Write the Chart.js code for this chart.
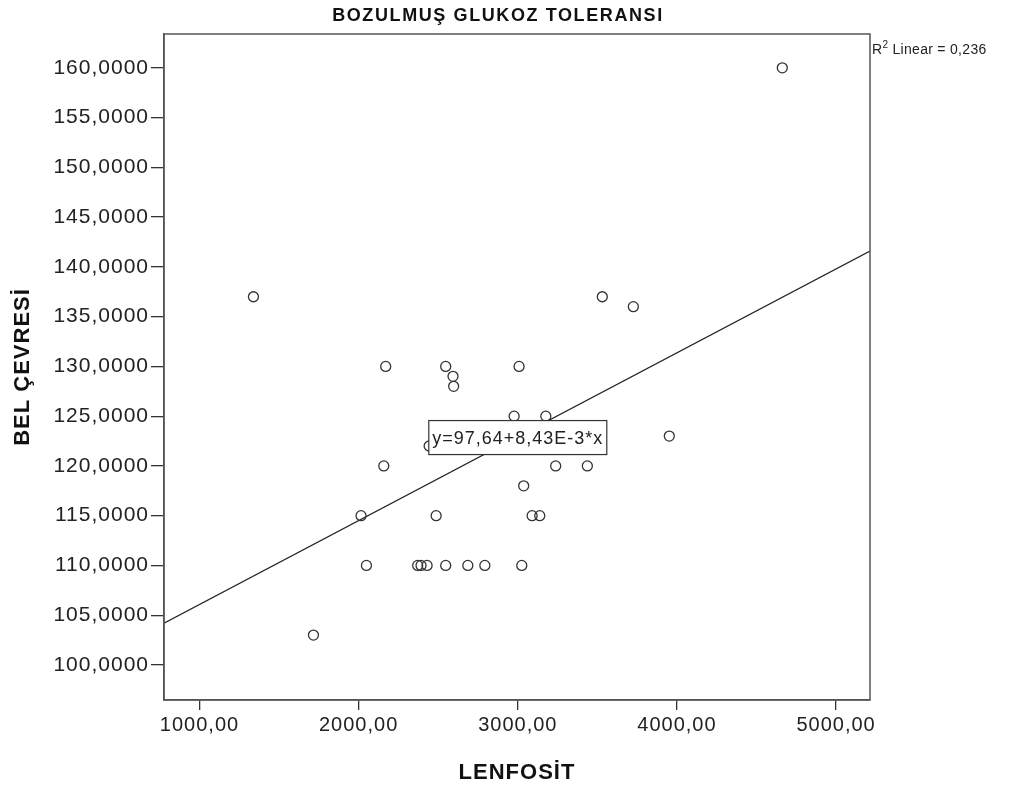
<!DOCTYPE html>
<html>
<head>
<meta charset="utf-8">
<script src="https://cdn.jsdelivr.net/npm/chart.js@4"></script>
<style>
  html, body { margin: 0; padding: 0; background: #fff; }
  #wrap { width: 1016px; height: 787px; position: relative; }
</style>
</head>
<body>
<div id="wrap"><canvas id="myChart"></canvas></div>
<script>
// LENFOSIT (x) vs BEL CEVRESI (y)
let lenfosit = [1339, 1716, 2015, 2049, 2158, 2170, 2371, 2392, 2430, 2443,
                2487, 2547, 2547, 2593, 2597, 2686, 2793, 2977, 3008, 3025,
                3037, 3090, 3138, 3176, 3238, 3437, 3531, 3726, 3952, 4662];
let bel_cevresi = [137, 103, 115, 110, 120, 130, 110, 110, 110, 122,
                   115, 130, 110, 129, 128, 110, 110, 125, 130, 110,
                   118, 115, 115, 125, 120, 120, 137, 136, 123, 160];

// fit line end points (edge of plot area)
let fit_x = [777, 5213];
let fit_y = [104.19, 141.59];

let x_ticks = [1000, 2000, 3000, 4000, 5000];
let y_ticks = [100, 105, 110, 115, 120, 125, 130, 135, 140, 145, 150, 155, 160];

let chart_title = "BOZULMUŞ GLUKOZ TOLERANSI";
let x_title = "LENFOSİT";
let y_title = "BEL ÇEVRESİ";
let fit_label = "y=97,64+8,43E-3*x";
let r2_value = "0,236";

const FONT = "'Liberation Sans', Arial, sans-serif";

/** draws the frame, title, equation box and R2 note */
const decor = {
    id: 'decor',
    beforeDraw(chart) {
        const ctx = chart.ctx;
        ctx.letterSpacing = '1px';
        ctx.save();
        ctx.fillStyle = '#fff';
        ctx.fillRect(0, 0, chart.width, chart.height);
        ctx.restore();
    },
    afterDraw(chart) {
        const ctx = chart.ctx;
        const a = chart.chartArea;
        ctx.save();
        // frame around plot
        ctx.strokeStyle = '#555';
        ctx.lineWidth = 1.5;
        ctx.strokeRect(a.left, a.top, a.right - a.left, a.bottom - a.top);

        // title
        ctx.fillStyle = '#111';
        ctx.font = "bold 18px " + FONT;
        ctx.textAlign = 'center';
        ctx.textBaseline = 'middle';
        ctx.letterSpacing = '1.6px';
        ctx.fillText(chart_title, (a.left + a.right) / 2 - 19, 16);

        // equation box
        const cx = chart.scales.x.getPixelForValue(3000);
        const cy = chart.scales.y.getPixelForValue(122.85);
        const w = 178, h = 34;
        ctx.fillStyle = '#fff';
        ctx.fillRect(cx - w / 2, cy - h / 2, w, h);
        ctx.strokeStyle = '#333';
        ctx.lineWidth = 1.2;
        ctx.strokeRect(cx - w / 2, cy - h / 2, w, h);
        ctx.fillStyle = '#222';
        ctx.font = "18px " + FONT;
        ctx.letterSpacing = '1px';
        ctx.fillText(fit_label, cx, cy + 1);

        // R2 note
        ctx.textAlign = 'left';
        ctx.textBaseline = 'alphabetic';
        ctx.letterSpacing = '0.3px';
        let x = a.right + 2;
        const base = a.top + 20;
        ctx.font = "14px " + FONT;
        ctx.fillText("R", x, base);
        x += ctx.measureText("R").width;
        ctx.font = "10px " + FONT;
        ctx.fillText("2", x, base - 6);
        x += ctx.measureText("2").width;
        ctx.font = "14px " + FONT;
        ctx.fillText(" Linear = " + r2_value, x, base);
        ctx.restore();
    }
};

function draw() {
    const ctx = document.getElementById('myChart').getContext('2d');
    return new Chart(ctx, {
        type: 'scatter',
        data: {
            datasets: [
                {
                    label: 'points',
                    data: lenfosit.map((v, i) => ({x: v, y: bel_cevresi[i]})),
                    pointRadius: 5,
                    pointBorderWidth: 1.3,
                    borderColor: '#333',
                    backgroundColor: 'rgba(0,0,0,0)',
                    order: 1
                },
                {
                    type: 'line',
                    label: 'fit',
                    data: fit_x.map((v, i) => ({x: v, y: fit_y[i]})),
                    borderColor: '#222',
                    borderWidth: 1.2,
                    pointRadius: 0,
                    fill: false,
                    order: 2
                }
            ]
        },
        options: {
            responsive: true,
            maintainAspectRatio: false,
            animation: false,
            events: [],
            layout: { padding: { top: 34, right: 146, bottom: 0, left: 0 } },
            plugins: {
                legend: { display: false },
                tooltip: { enabled: false },
                title: { display: false }
            },
            scales: {
                x: {
                    type: 'linear',
                    min: 777,
                    max: 5213,
                    afterBuildTicks: s => { s.ticks = x_ticks.map(v => ({value: v})); },
                    afterFit: s => { s.height = 87; },
                    ticks: {
                        font: { family: FONT, size: 20 },
                        color: '#222',
                        padding: 3,
                        callback: v => v.toFixed(2).replace('.', ',')
                    },
                    grid: { drawOnChartArea: false, tickLength: 10, color: '#333', lineWidth: 1.3 },
                    border: { color: '#555', width: 1.5 },
                    title: {
                        display: true,
                        text: x_title,
                        color: '#111',
                        font: { family: FONT, size: 22, weight: 'bold' },
                        padding: { top: 4, bottom: 1 }
                    }
                },
                y: {
                    type: 'linear',
                    min: 96.48,
                    max: 163.4,
                    afterBuildTicks: s => { s.ticks = y_ticks.map(v => ({value: v})); },
                    afterFit: s => { s.width = 164; },
                    ticks: {
                        font: { family: FONT, size: 21 },
                        color: '#222',
                        padding: 2,
                        callback: v => v.toFixed(4).replace('.', ',')
                    },
                    grid: { drawOnChartArea: false, tickLength: 13, color: '#333', lineWidth: 1.3 },
                    border: { color: '#555', width: 1.5 },
                    title: {
                        display: true,
                        text: y_title,
                        color: '#111',
                        font: { family: FONT, size: 22, weight: 'bold' },
                        padding: { top: 10, bottom: 0 }
                    }
                }
            }
        },
        plugins: [decor]
    });
}

let myChart = draw();
</script>
</body>
</html>
